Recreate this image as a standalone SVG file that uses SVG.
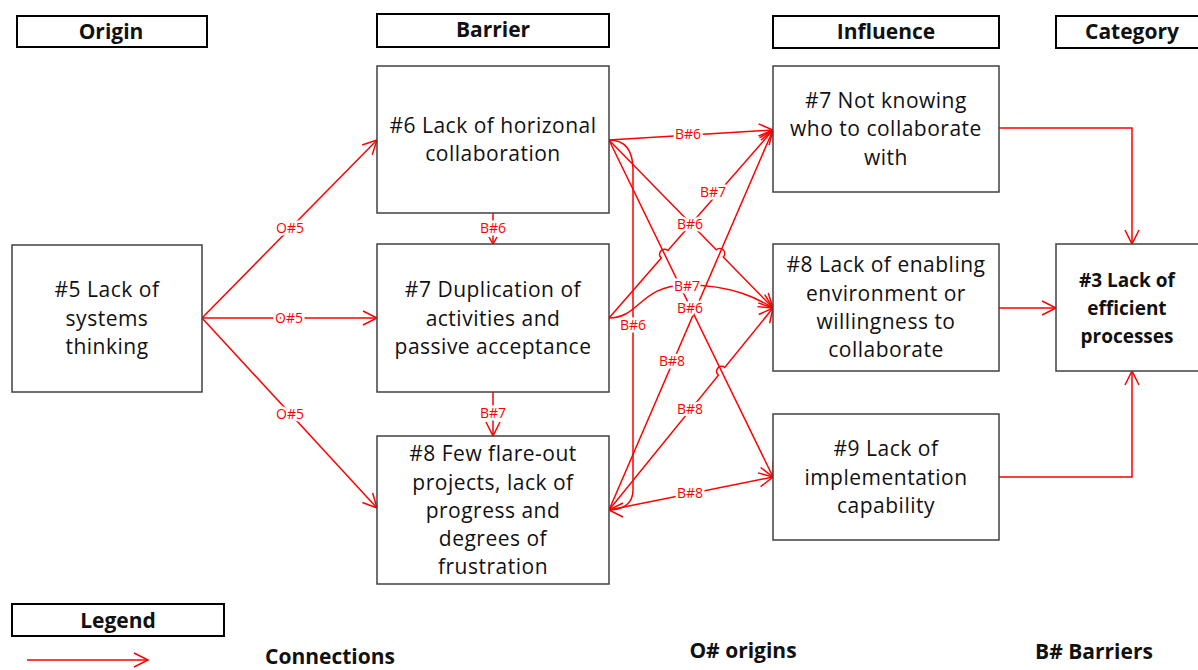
<svg xmlns="http://www.w3.org/2000/svg" width="1198" height="670" viewBox="0 0 1198 670">
  <style>
    .hdr { fill: #fff; stroke: #000; stroke-width: 2; }
    .box { fill: #fff; stroke: #404040; stroke-width: 1.5; }
    .t { font-family: "Open Sans", "Liberation Sans", sans-serif; font-size: 21px; letter-spacing: 0.5px; fill: #111; text-anchor: middle; }
    .b { font-weight: bold; letter-spacing: 0; }
    .h { font-size: 21px; }
    .cat { font-size: 19px; }
    .c { fill: none; stroke: #ff0000; stroke-width: 1.5; }
    .lbl { font-family: "Open Sans", "Liberation Sans", sans-serif; font-size: 14px; fill: #ff0000; text-anchor: middle;
           stroke: #fff; stroke-width: 5; paint-order: stroke; stroke-linejoin: round; }
  </style>
  <defs>
    <marker id="arr" markerUnits="userSpaceOnUse" markerWidth="18" markerHeight="18" refX="15" refY="9" orient="auto">
      <path d="M1,2 L15,9 L1,16" fill="none" stroke="#ff0000" stroke-width="1.5"/>
    </marker>
    <marker id="arrS" markerUnits="userSpaceOnUse" markerWidth="10" markerHeight="10" refX="8" refY="5" orient="auto">
      <path d="M1,1 L8,5 L1,9" fill="none" stroke="#ff0000" stroke-width="1.5"/>
    </marker>
  </defs>
  <rect width="1198" height="670" fill="#fff"/>

  <!-- column headers -->
  <g id="hdr-origin"><rect class="hdr" x="17" y="16" width="190" height="31"/><text class="t b h" x="111" y="39">Origin</text></g>
  <g id="hdr-barrier"><rect class="hdr" x="377" y="14" width="232" height="33"/><text class="t b h" x="493" y="37">Barrier</text></g>
  <g id="hdr-influence"><rect class="hdr" x="773" y="16" width="226" height="32"/><text class="t b h" x="886" y="39">Influence</text></g>
  <g id="hdr-category"><rect class="hdr" x="1056" y="16" width="150" height="32"/><text class="t b h" x="1132" y="39">Category</text></g>

  <!-- connectors -->
  <g id="connectors">
    <!-- origin to barriers -->
    <line class="c" x1="202" y1="318" x2="377" y2="140" marker-end="url(#arr)"/>
    <line class="c" x1="202" y1="318" x2="377" y2="318" marker-end="url(#arr)"/>
    <line class="c" x1="202" y1="318" x2="377" y2="508" marker-end="url(#arr)"/>
    <!-- barrier chain -->
    <line class="c" x1="493" y1="213" x2="493" y2="244" marker-end="url(#arrS)"/>
    <line class="c" x1="493" y1="392" x2="493" y2="436" marker-end="url(#arr)"/>
    <!-- from barrier #6 -->
    <line class="c" x1="609" y1="140" x2="773" y2="130" marker-end="url(#arr)"/>
    <path class="c" d="M609,140 L716.26,249.82 A5,5 0 0 1 723.24,256.98 L773,308" marker-end="url(#arr)"/>
    <line class="c" x1="609" y1="140" x2="773" y2="477" marker-end="url(#arr)"/>
    <path class="c" d="M609,140 C625,140 633,150 633,170 L633,490 C633,502 625,510 609,510" marker-end="url(#arr)"/>
    <!-- from barrier #7 -->
    <path class="c" d="M609,318 L661.3,258.1 A5,5 0 0 1 667.9,250.5 L773,130" marker-end="url(#arr)"/>
    <path class="c" d="M609,318 C640,318 640,285 687,285 S760,300 773,308" marker-end="url(#arr)"/>
    <!-- from barrier #8 -->
    <line class="c" x1="609" y1="510" x2="773" y2="130" marker-end="url(#arr)"/>
    <path class="c" d="M609,510 L718.45,375.2 A5,5 0 0 1 724.75,367.4 L773,308" marker-end="url(#arr)"/>
    <line class="c" x1="609" y1="510" x2="773" y2="477" marker-end="url(#arr)"/>
    <!-- influences to category -->
    <polyline class="c" points="999,128 1132,128 1132,244" marker-end="url(#arr)"/>
    <line class="c" x1="999" y1="308" x2="1056" y2="308" marker-end="url(#arr)"/>
    <polyline class="c" points="999,477 1132,477 1132,371" marker-end="url(#arr)"/>

    <!-- connector labels -->
    <text class="lbl" x="290" y="233">O#5</text>
    <text class="lbl" x="289" y="323">O#5</text>
    <text class="lbl" x="290" y="419">O#5</text>
    <text class="lbl" x="493" y="233">B#6</text>
    <text class="lbl" x="493" y="418">B#7</text>
    <text class="lbl" x="688" y="139">B#6</text>
    <text class="lbl" x="713" y="197">B#7</text>
    <text class="lbl" x="690" y="229">B#6</text>
    <text class="lbl" x="687" y="291">B#7</text>
    <text class="lbl" x="690" y="313">B#6</text>
    <text class="lbl" x="633" y="330">B#6</text>
    <text class="lbl" x="672" y="366">B#8</text>
    <text class="lbl" x="690" y="414">B#8</text>
    <text class="lbl" x="690" y="498">B#8</text>
  </g>

  <!-- origin -->
  <g id="origin-5">
    <rect class="box" x="12" y="245" width="190" height="147"/>
    <text class="t" x="107" y="297">#5 Lack of</text>
    <text class="t" x="107" y="326">systems</text>
    <text class="t" x="107" y="354">thinking</text>
  </g>

  <!-- barriers -->
  <g id="barrier-6">
    <rect class="box" x="377" y="66" width="232" height="147"/>
    <text class="t" x="493" y="133">#6 Lack of horizonal</text>
    <text class="t" x="493" y="161">collaboration</text>
  </g>
  <g id="barrier-7">
    <rect class="box" x="377" y="244" width="232" height="148"/>
    <text class="t" x="493" y="297">#7 Duplication of</text>
    <text class="t" x="493" y="326">activities and</text>
    <text class="t" x="493" y="354">passive acceptance</text>
  </g>
  <g id="barrier-8">
    <rect class="box" x="377" y="436" width="232" height="148"/>
    <text class="t" x="493" y="461">#8 Few flare-out</text>
    <text class="t" x="493" y="490">projects, lack of</text>
    <text class="t" x="493" y="518">progress and</text>
    <text class="t" x="493" y="546">degrees of</text>
    <text class="t" x="493" y="574">frustration</text>
  </g>

  <!-- influences -->
  <g id="influence-7">
    <rect class="box" x="773" y="66" width="226" height="126"/>
    <text class="t" x="886" y="108">#7 Not knowing</text>
    <text class="t" x="886" y="136">who to collaborate</text>
    <text class="t" x="886" y="165">with</text>
  </g>
  <g id="influence-8">
    <rect class="box" x="773" y="244" width="226" height="127"/>
    <text class="t" x="886" y="272">#8 Lack of enabling</text>
    <text class="t" x="886" y="301">environment or</text>
    <text class="t" x="886" y="329">willingness to</text>
    <text class="t" x="886" y="357">collaborate</text>
  </g>
  <g id="influence-9">
    <rect class="box" x="773" y="414" width="226" height="126"/>
    <text class="t" x="886" y="456">#9 Lack of</text>
    <text class="t" x="886" y="485">implementation</text>
    <text class="t" x="886" y="513">capability</text>
  </g>

  <!-- category -->
  <g id="category-3">
    <rect class="box" x="1056" y="244" width="150" height="127"/>
    <text class="t b cat" x="1127" y="287">#3 Lack of</text>
    <text class="t b cat" x="1127" y="315">efficient</text>
    <text class="t b cat" x="1127" y="343">processes</text>
  </g>

  <!-- legend -->
  <g id="legend">
    <rect class="hdr" x="12" y="604" width="212" height="32"/>
    <text class="t b h" x="118" y="628">Legend</text>
    <line class="c" x1="27" y1="660" x2="148" y2="660" marker-end="url(#arr)"/>
    <text class="t b h" x="330" y="664">Connections</text>
    <text class="t b h" x="743" y="658">O# origins</text>
    <text class="t b h" x="1094" y="659">B# Barriers</text>
  </g>
</svg>
